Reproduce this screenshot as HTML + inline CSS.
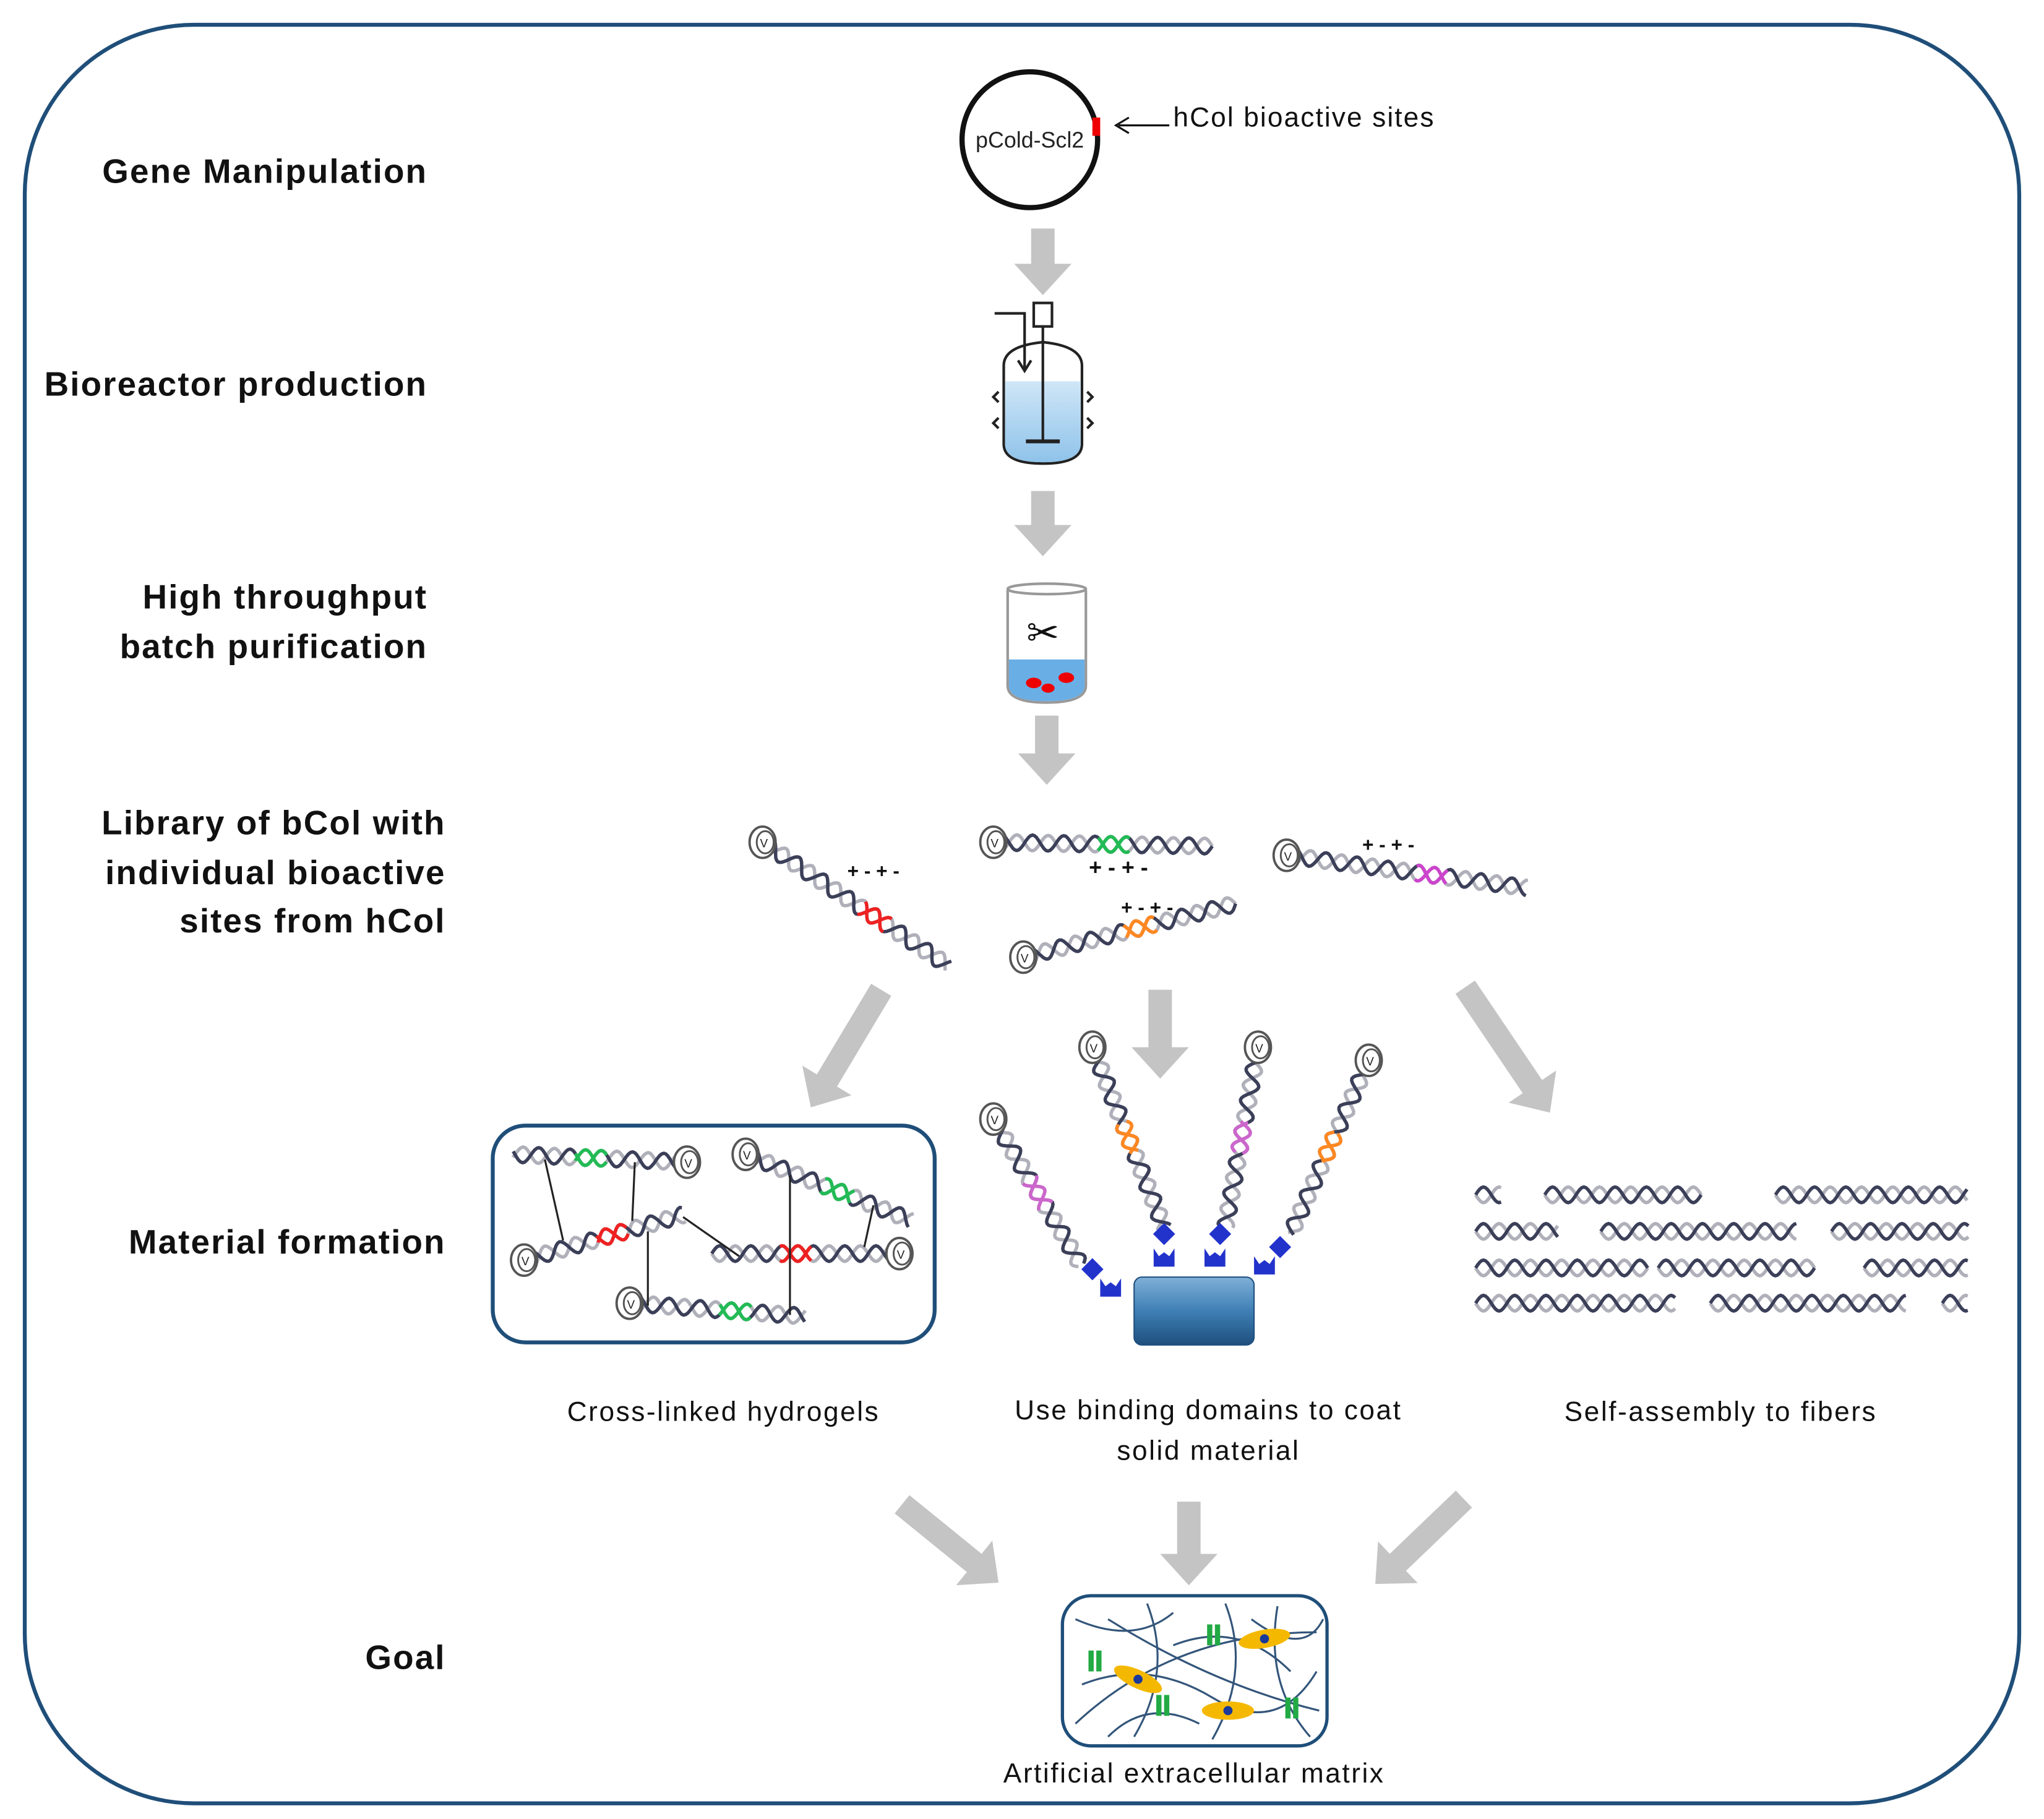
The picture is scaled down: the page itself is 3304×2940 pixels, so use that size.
<!DOCTYPE html>
<html><head><meta charset="utf-8">
<style>
html,body{margin:0;padding:0;background:#fff;}
svg{display:block;}
text{font-family:"Liberation Sans",sans-serif;}
.lab{font-weight:bold;font-size:26px;fill:#111;text-anchor:end;letter-spacing:1px;}
.cap{font-size:21px;fill:#111;text-anchor:middle;letter-spacing:1.2px;}
</style></head><body>
<svg id="s" width="3304" height="2940" viewBox="0 0 1568 1393" preserveAspectRatio="none" xmlns="http://www.w3.org/2000/svg">
<defs>
<linearGradient id="bg" x1="0" y1="0" x2="0" y2="1">
<stop offset="0" stop-color="#7fb0d8"/><stop offset="0.5" stop-color="#3f7fb5"/><stop offset="1" stop-color="#1e4f7e"/>
</linearGradient>
<linearGradient id="wat" x1="0" y1="0" x2="0" y2="1"><stop offset="0" stop-color="#cfe6f7"/><stop offset="1" stop-color="#8fc3ea"/></linearGradient>
</defs>
<rect x="19" y="19" width="1530" height="1362" rx="130" ry="130" fill="none" stroke="#1f4e79" stroke-width="3"/>

<text class="lab" x="328" y="140">Gene Manipulation</text>
<text class="lab" x="328" y="303">Bioreactor production</text>
<text class="lab" x="328" y="466">High throughput</text>
<text class="lab" x="328" y="504">batch purification</text>
<text class="lab" x="342" y="639">Library of bCol with</text>
<text class="lab" x="342" y="677">individual bioactive</text>
<text class="lab" x="342" y="714">sites from hCol</text>
<text class="lab" x="342" y="960">Material formation</text>
<text class="lab" x="342" y="1278">Goal</text>

<!-- plasmid -->
<circle cx="790" cy="107" r="52" fill="none" stroke="#111" stroke-width="4"/>
<rect x="838" y="90" width="6" height="14" fill="#e00"/>
<text x="790" y="113" font-size="17" text-anchor="middle" fill="#222">pCold-Scl2</text>
<line x1="897" y1="96" x2="858" y2="96" stroke="#111" stroke-width="1.5"/>
<path d="M866,90 L856,96 L866,102" fill="none" stroke="#111" stroke-width="1.5"/>
<text x="900" y="97" font-size="21" fill="#111" letter-spacing="1">hCol bioactive sites</text>

<!-- bioreactor -->
<g stroke="#222" stroke-width="2" fill="none">
<path d="M770,280 Q770,265 800,262 Q830,265 830,280 L830,340 Q830,355 800,355 Q770,355 770,340 Z" fill="#fff"/>
<path d="M771,292 L829,292 L829,340 Q829,354 800,354 Q771,354 771,340 Z" fill="url(#wat)" stroke="none"/>
<rect x="793" y="232" width="14" height="18" fill="#fff"/>
<line x1="800" y1="250" x2="800" y2="338"/>
<line x1="787" y1="338" x2="813" y2="338" stroke-width="3"/>
<path d="M763,240 L786,240 L786,283"/>
<path d="M781,276 L786,284 L791,276"/>
<path d="M766,300 l-4,4 4,4 M766,320 l-4,4 4,4 M834,300 l4,4 -4,4 M834,320 l4,4 -4,4"/>
</g>
<!-- beaker -->
<path d="M773,452 L773,525 Q773,538 803,538 Q833,538 833,525 L833,452" fill="#fff" stroke="#999" stroke-width="2"/>
<path d="M774,505 L832,505 L832,525 Q832,537 803,537 Q774,537 774,525 Z" fill="#6aaee6"/>
<ellipse cx="803" cy="451" rx="30" ry="4" fill="none" stroke="#999" stroke-width="2"/>
<ellipse cx="793" cy="523" rx="6" ry="4" fill="#e00"/><ellipse cx="818" cy="519" rx="6" ry="4" fill="#e00"/><ellipse cx="804" cy="527" rx="5" ry="3.5" fill="#e00"/>
<text x="800" y="495" font-size="30" text-anchor="middle" fill="#111">✂</text>

<g id="arrows" fill="#c4c4c4"></g>
<g id="mol"></g>

<!-- hydrogel box -->
<rect x="378" y="862" width="339" height="166" rx="25" fill="none" stroke="#1f4e79" stroke-width="3"/>
<g stroke="#222" stroke-width="1.5">
<line x1="418" y1="888" x2="432" y2="950"/><line x1="487" y1="890" x2="485" y2="935"/>
<line x1="497" y1="943" x2="497" y2="1000"/><line x1="524" y1="932" x2="567" y2="962"/>
<line x1="606" y1="900" x2="606" y2="1007"/><line x1="670" y1="923" x2="663" y2="955"/>
</g>
<!-- block -->
<rect x="870" y="978" width="92" height="52" rx="6" fill="url(#bg)" stroke="#1e4f7e"/>

<text class="cap" x="555" y="1088">Cross-linked hydrogels</text>
<text class="cap" x="927" y="1087">Use binding domains to coat</text>
<text class="cap" x="927" y="1118">solid material</text>
<text class="cap" x="1320" y="1088">Self-assembly to fibers</text>

<!-- goal box -->
<rect x="815" y="1222" width="203" height="115" rx="22" fill="none" stroke="#1f4e79" stroke-width="2.5"/>
<g id="goal"></g>
<text class="cap" x="916" y="1365">Artificial extracellular matrix</text>
</svg>
<script>
var NS="http://www.w3.org/2000/svg";
function el(p,t,a){var e=document.createElementNS(NS,t);for(var k in a)e.setAttribute(k,a[k]);p.appendChild(e);return e;}
var A=document.getElementById('arrows');
function arr(x1,y1,x2,y2){var dx=x2-x1,dy=y2-y1,L=Math.hypot(dx,dy),ux=dx/L,uy=dy/L,px=-uy,py=ux;
 var hw=9,hh=22,hl=24,bx=x2-ux*hl,by=y2-uy*hl;
 var pts=[[x1+px*hw,y1+py*hw],[bx+px*hw,by+py*hw],[bx+px*hh,by+py*hh],[x2,y2],[bx-px*hh,by-py*hh],[bx-px*hw,by-py*hw],[x1-px*hw,y1-py*hw]];
 el(A,'polygon',{points:pts.map(function(p){return p.join(',')}).join(' ')});}
arr(800,175,800,226);arr(800,376,800,426);arr(803,548,803,601);
arr(676,758,622,848);arr(890,758,890,826);arr(1124,756,1189,852);
arr(692,1152,766,1212);arr(912,1150,912,1214);arr(1123,1148,1055,1213);
var M=document.getElementById('mol');
function helix(x1,y1,x2,y2,col,ct,end){var dx=x2-x1,dy=y2-y1,L=Math.hypot(dx,dy),ux=dx/L,uy=dy/L,px=-uy,py=ux;
 var amp=6,per=24;
 [[0,'#b0b0ba'],[Math.PI,'#3b3f58']].forEach(function(s){var d='';
  for(var t=0;t<=L;t+=1.5){var o=amp*Math.sin(t/per*2*Math.PI+s[0]);d+=(t?'L':'M')+(x1+ux*t+px*o).toFixed(1)+','+(y1+uy*t+py*o).toFixed(1);}
  el(M,'path',{d:d,fill:'none',stroke:s[1],'stroke-width':2.6});});
 if(col){var c0=L*ct-12;[0,Math.PI].forEach(function(ph){var d='';for(var t=c0;t<=c0+24;t+=1.5){var o=amp*Math.sin(t/per*2*Math.PI+ph);d+=(t==c0?'M':'L')+(x1+ux*t+px*o).toFixed(1)+','+(y1+uy*t+py*o).toFixed(1);}
  el(M,'path',{d:d,fill:'none',stroke:col,'stroke-width':2.6});});}
 if(end!==false){el(M,'ellipse',{cx:x1,cy:y1,rx:10,ry:12,fill:'#fff',stroke:'#555','stroke-width':1.8});
  el(M,'ellipse',{cx:x1+2,cy:y1,rx:6.5,ry:8.5,fill:'none',stroke:'#555','stroke-width':1.4});
  var t=el(M,'text',{x:x1+1,y:y1+4,'font-size':9,'text-anchor':'middle',fill:'#222'});t.textContent='V';}}
function txt(x,y,s,sz){var t=el(M,'text',{x:x,y:y,'font-size':sz||17,'text-anchor':'middle',fill:'#111','font-weight':'bold'});t.textContent=s;}
helix(585,645,728,740,'#ee2222',0.6);txt(670,672,'+ - + -',15);
helix(762,645,930,648,'#22bb55',0.55);txt(858,670,'+ - + -');
helix(785,733,948,692,'#ff8822',0.55);txt(880,700,'+ - + -',15);
helix(987,655,1172,680,'#cc44cc',0.6);txt(1065,652,'+ - + -',15);
helix(762,857,830,970,'#cc66cc',0.5);helix(838,802,893,940,'#ff8822',0.5);
helix(965,802,940,940,'#cc66cc',0.5);helix(1050,812,990,945,'#ff8822',0.5);
helix(527,890,393,884,'#22bb55',0.55);helix(572,884,700,935,'#22bb55',0.55);
helix(402,965,525,930,'#ee2222',0.55);helix(690,960,545,960,'#ee2222',0.55);
helix(483,998,618,1008,'#22bb55',0.6);
[[838,972,852,985],[893,945,893,962],[936,945,932,962],[982,955,970,968]].forEach(function(b){
 el(M,'rect',{x:b[0]-6,y:b[1]-6,width:12,height:12,fill:'#2233cc',transform:'rotate(45 '+b[0]+' '+b[1]+')'});
 el(M,'path',{d:'M'+(b[2]-8)+','+(b[3]-6)+' l4,6 4,-3 4,3 4,-6 v14 h-16 z',fill:'#2233cc'});});
var rows=[[915,[[1132,1152],[1185,1305],[1362,1510]]],[943,[[1132,1195],[1228,1378],[1405,1510]]],[971,[[1132,1265],[1272,1392],[1430,1510]]],[998,[[1132,1285],[1312,1462],[1490,1510]]]];
rows.forEach(function(r){r[1].forEach(function(s){helix(s[0],r[0],s[1],r[0],null,0,false);});});
var G=document.getElementById('goal');
var lines=['M825,1240 Q870,1260 900,1235','M830,1290 Q880,1270 930,1300 T1010,1280','M850,1330 Q880,1300 920,1320','M880,1228 Q900,1280 870,1330','M940,1228 Q960,1280 930,1332','M980,1230 Q970,1290 1005,1330','M825,1320 Q900,1250 1010,1250','M850,1240 Q930,1290 1012,1310','M960,1240 Q1000,1270 1015,1240','M900,1260 Q950,1240 990,1280'];
lines.forEach(function(d){el(G,'path',{d:d,fill:'none',stroke:'#33557a','stroke-width':1.5});});
[[970,1255,-10],[873,1286,25],[942,1310,0]].forEach(function(c){el(G,'ellipse',{cx:c[0],cy:c[1],rx:20,ry:7,fill:'#f5b800',transform:'rotate('+c[2]+' '+c[0]+' '+c[1]+')'});el(G,'circle',{cx:c[0],cy:c[1],r:3.5,fill:'#1a3a9a'});});
[[840,1272],[931,1252],[892,1306],[991,1308]].forEach(function(g){el(G,'rect',{x:g[0]-5,y:g[1]-8,width:4,height:16,fill:'#22aa44'});el(G,'rect',{x:g[0]+1,y:g[1]-8,width:4,height:16,fill:'#22aa44'});});
</script>
</body></html>
